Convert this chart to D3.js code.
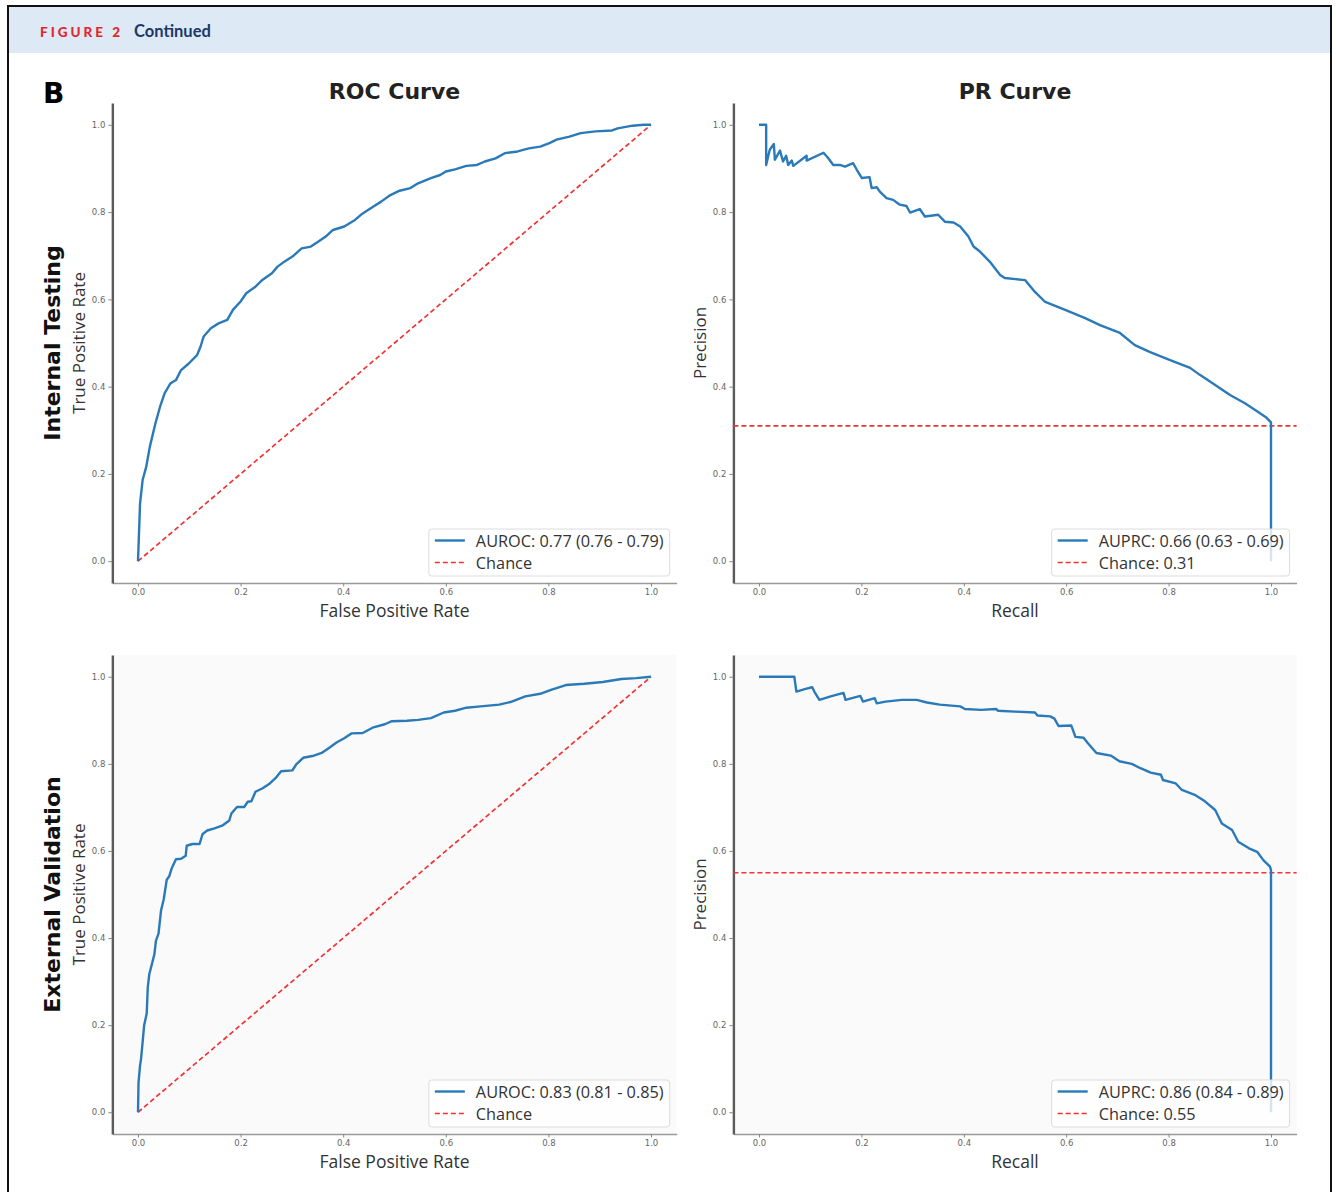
<!DOCTYPE html>
<html>
<head>
<meta charset="utf-8">
<script src="https://cdn.jsdelivr.net/npm/d3@7/dist/d3.min.js"></script>
<style>
  html, body { margin: 0; padding: 0; background: #fff; }
  svg { display: block; }
</style>
</head>
<body>
<svg id="fig" width="1336" height="1192"></svg>
<script>
// ---- data -------------------------------------------------------------
const tickValues = [0, 0.2, 0.4, 0.6, 0.8, 1.0];
const tickLabels = ["0.0", "0.2", "0.4", "0.6", "0.8", "1.0"];
const rowNames = ["Internal Testing", "External Validation"];
const colTitles = ["ROC Curve", "PR Curve"];

// ROC, internal testing
const rocIntFpr = [0, 0.004, 0.009, 0.016, 0.023, 0.034, 0.043, 0.052, 0.063, 0.074, 0.084, 0.099, 0.115, 0.122, 0.128, 0.142, 0.157, 0.174, 0.185, 0.200, 0.211, 0.229, 0.243, 0.261, 0.272, 0.286, 0.301, 0.319, 0.337, 0.351, 0.366, 0.380, 0.402, 0.423, 0.438, 0.459, 0.474, 0.492, 0.510, 0.531, 0.546, 0.571, 0.589, 0.600, 0.618, 0.640, 0.661, 0.676, 0.697, 0.715, 0.740, 0.762, 0.784, 0.802, 0.816, 0.841, 0.863, 0.892, 0.924, 0.935, 0.964, 0.986, 1.0];
const rocIntTpr = [0, 0.132, 0.186, 0.216, 0.262, 0.316, 0.354, 0.385, 0.407, 0.415, 0.438, 0.453, 0.472, 0.492, 0.515, 0.534, 0.545, 0.553, 0.576, 0.595, 0.614, 0.629, 0.645, 0.660, 0.675, 0.687, 0.698, 0.717, 0.721, 0.732, 0.744, 0.759, 0.767, 0.782, 0.797, 0.813, 0.824, 0.839, 0.849, 0.855, 0.866, 0.878, 0.885, 0.893, 0.898, 0.906, 0.908, 0.916, 0.923, 0.935, 0.939, 0.946, 0.950, 0.958, 0.966, 0.973, 0.981, 0.985, 0.987, 0.992, 0.998, 1.0, 1.0];

// ROC, external validation
const rocExtFpr = [0, 0.001, 0.004, 0.006, 0.009, 0.012, 0.017, 0.019, 0.022, 0.027, 0.032, 0.035, 0.040, 0.045, 0.050, 0.056, 0.061, 0.066, 0.074, 0.084, 0.093, 0.095, 0.106, 0.120, 0.126, 0.135, 0.149, 0.164, 0.178, 0.182, 0.193, 0.207, 0.214, 0.221, 0.229, 0.243, 0.257, 0.268, 0.279, 0.301, 0.308, 0.322, 0.340, 0.358, 0.373, 0.387, 0.402, 0.416, 0.438, 0.459, 0.481, 0.495, 0.524, 0.546, 0.571, 0.596, 0.618, 0.640, 0.668, 0.704, 0.726, 0.755, 0.784, 0.805, 0.834, 0.870, 0.906, 0.942, 0.971, 1.0];
const rocExtTpr = [0, 0.068, 0.107, 0.123, 0.161, 0.200, 0.227, 0.286, 0.317, 0.340, 0.363, 0.394, 0.410, 0.464, 0.488, 0.534, 0.542, 0.561, 0.581, 0.582, 0.589, 0.612, 0.616, 0.616, 0.639, 0.647, 0.652, 0.658, 0.670, 0.686, 0.701, 0.701, 0.713, 0.714, 0.736, 0.744, 0.755, 0.767, 0.783, 0.785, 0.798, 0.814, 0.818, 0.825, 0.837, 0.849, 0.859, 0.870, 0.871, 0.884, 0.891, 0.898, 0.899, 0.901, 0.905, 0.918, 0.922, 0.929, 0.932, 0.936, 0.942, 0.955, 0.961, 0.970, 0.981, 0.984, 0.988, 0.995, 0.997, 1.0];

// PR, internal testing
const prIntRecall = [0, 0.014, 0.014, 0.021, 0.029, 0.031, 0.041, 0.047, 0.053, 0.057, 0.064, 0.067, 0.093, 0.093, 0.126, 0.135, 0.145, 0.158, 0.168, 0.184, 0.191, 0.201, 0.216, 0.220, 0.230, 0.236, 0.249, 0.262, 0.275, 0.288, 0.295, 0.314, 0.324, 0.350, 0.363, 0.380, 0.393, 0.409, 0.419, 0.432, 0.451, 0.471, 0.480, 0.520, 0.539, 0.559, 0.598, 0.637, 0.666, 0.705, 0.734, 0.764, 0.803, 0.842, 0.861, 0.891, 0.920, 0.949, 0.975, 0.990, 1.0, 1.0];
const prIntPrecision = [1.0, 1.0, 0.908, 0.943, 0.956, 0.920, 0.941, 0.916, 0.929, 0.908, 0.918, 0.906, 0.929, 0.918, 0.936, 0.924, 0.908, 0.908, 0.904, 0.912, 0.897, 0.878, 0.880, 0.855, 0.857, 0.847, 0.832, 0.828, 0.817, 0.814, 0.799, 0.807, 0.790, 0.794, 0.778, 0.776, 0.767, 0.744, 0.721, 0.709, 0.686, 0.656, 0.649, 0.644, 0.617, 0.594, 0.576, 0.557, 0.541, 0.523, 0.495, 0.479, 0.461, 0.443, 0.427, 0.404, 0.381, 0.362, 0.342, 0.330, 0.318, 0.0];

// PR, external validation
const prExtRecall = [0, 0.069, 0.073, 0.091, 0.104, 0.108, 0.118, 0.140, 0.165, 0.169, 0.198, 0.203, 0.226, 0.230, 0.247, 0.279, 0.308, 0.328, 0.353, 0.393, 0.402, 0.434, 0.463, 0.467, 0.500, 0.539, 0.544, 0.569, 0.577, 0.585, 0.610, 0.618, 0.634, 0.642, 0.659, 0.687, 0.704, 0.728, 0.745, 0.765, 0.785, 0.789, 0.814, 0.826, 0.851, 0.871, 0.891, 0.904, 0.924, 0.936, 0.957, 0.973, 0.985, 0.998, 1.0, 1.0];
const prExtPrecision = [1.0, 1.0, 0.966, 0.972, 0.976, 0.966, 0.947, 0.955, 0.963, 0.947, 0.956, 0.943, 0.951, 0.939, 0.943, 0.947, 0.947, 0.941, 0.936, 0.932, 0.926, 0.924, 0.926, 0.922, 0.920, 0.918, 0.911, 0.909, 0.904, 0.887, 0.888, 0.862, 0.860, 0.848, 0.825, 0.819, 0.806, 0.800, 0.790, 0.780, 0.775, 0.763, 0.755, 0.740, 0.729, 0.714, 0.694, 0.663, 0.648, 0.621, 0.606, 0.598, 0.579, 0.564, 0.556, 0.0];

// headline numbers shown in the legends
const aurocLabels = ["AUROC: 0.77 (0.76 - 0.79)", "AUROC: 0.83 (0.81 - 0.85)"];
const auprcLabels = ["AUPRC: 0.66 (0.63 - 0.69)", "AUPRC: 0.86 (0.84 - 0.89)"];
const prevalence = [0.31, 0.55];

// ---- layout -----------------------------------------------------------
const BLUE = "#2a7ab9";
const RED = "#f23333";
const svg = d3.select("#fig");

// figure frame + header band
svg.append("rect").attr("x", 9).attr("y", 7).attr("width", 1321).attr("height", 46)
  .attr("fill", "#dde9f5");
svg.append("rect").attr("x", 8).attr("y", 6).attr("width", 1323).attr("height", 1200)
  .attr("fill", "none").attr("stroke", "#111").attr("stroke-width", 2);
svg.append("text").attr("x", 40).attr("y", 37)
  .attr("font-family", "Lato, 'Open Sans', sans-serif").attr("font-weight", 900)
  .attr("font-size", 13.5).attr("letter-spacing", 3).attr("fill", "#e3262d")
  .text("FIGURE 2");
svg.append("text").attr("x", 134).attr("y", 37)
  .attr("font-family", "Lato, 'Open Sans', sans-serif").attr("font-weight", 700)
  .attr("font-size", 16.5).attr("fill", "#1b3868")
  .text("Continued");
svg.append("text").attr("x", 43).attr("y", 103)
  .attr("font-family", "'DejaVu Sans', sans-serif").attr("font-weight", 700)
  .attr("font-size", 28).attr("fill", "#000").text("B");

const rowRanges = [[583, 103], [1134, 655]];
const colRanges = [[112.35, 676.65], [733.4, 1296.6]];
const domain = [-0.05, 1.05];
const labelFont = "'Open Sans', 'Noto Sans', sans-serif";

const panels = [
  { row: 0, col: 0, xs: rocIntFpr, ys: rocIntTpr, label: aurocLabels[0] },
  { row: 0, col: 1, xs: prIntRecall, ys: prIntPrecision, label: auprcLabels[0], chance: prevalence[0] },
  { row: 1, col: 0, xs: rocExtFpr, ys: rocExtTpr, label: aurocLabels[1] },
  { row: 1, col: 1, xs: prExtRecall, ys: prExtPrecision, label: auprcLabels[1], chance: prevalence[1] }
];

panels.forEach(p => {
  const x = d3.scaleLinear().domain(domain).range(colRanges[p.col]);
  const y = d3.scaleLinear().domain(domain).range(rowRanges[p.row]);
  const g = svg.append("g");
  const [x0, x1] = x.range();
  const [y0, y1] = y.range();

  if (p.row === 1) {
    g.append("rect").attr("x", x0).attr("y", y1).attr("width", x1 - x0).attr("height", y0 - y1)
      .attr("fill", "#fafafa");
  }

  // axes
  const fmt = d => tickLabels[tickValues.indexOf(d)];
  const ax = g.append("g").attr("transform", `translate(0,${y0})`)
    .call(d3.axisBottom(x).tickValues(tickValues).tickFormat(fmt).tickSizeInner(3.5).tickSizeOuter(0).tickPadding(2));
  ax.select(".domain").attr("stroke", "#9a9a9a").attr("stroke-width", 1.6);
  const ay = g.append("g").attr("transform", `translate(${x0},0)`)
    .call(d3.axisLeft(y).tickValues(tickValues).tickFormat(fmt).tickSizeInner(4).tickSizeOuter(0).tickPadding(3));
  ay.select(".domain").attr("stroke", "#5a5a5a").attr("stroke-width", 2.4);
  [ax, ay].forEach(a => {
    a.selectAll(".tick line").attr("stroke", "#888").attr("stroke-width", 1);
    a.selectAll(".tick text").attr("fill", "#666")
      .attr("font-family", "'DejaVu Sans', sans-serif").attr("font-size", 8.5);
  });

  // reference line
  if (p.chance === undefined) {
    g.append("path").datum([[0, 0], [1, 1]])
      .attr("d", d3.line().x(d => x(d[0])).y(d => y(d[1])))
      .attr("fill", "none").attr("stroke", RED).attr("stroke-width", 1.7)
      .attr("stroke-dasharray", "5,3");
  } else {
    g.append("line").attr("x1", x0).attr("x2", x1)
      .attr("y1", y(p.chance)).attr("y2", y(p.chance))
      .attr("stroke", RED).attr("stroke-width", 1.7).attr("stroke-dasharray", "5,3");
  }

  // curve
  const pts = p.xs.map((v, i) => [v, p.ys[i]]);
  g.append("path").datum(pts)
    .attr("d", d3.line().x(d => x(d[0])).y(d => y(d[1])))
    .attr("fill", "none").attr("stroke", BLUE).attr("stroke-width", 2.4)
    .attr("stroke-linejoin", "round");

  // axis labels
  const isRoc = p.col === 0;
  g.append("text").attr("x", (x0 + x1) / 2).attr("y", y0 + 34)
    .attr("text-anchor", "middle").attr("font-family", labelFont).attr("font-size", 17.5)
    .attr("fill", "#333").text(isRoc ? "False Positive Rate" : "Recall");
  const ylx = isRoc ? 85 : 706;
  g.append("text").attr("transform", `translate(${ylx},${(y0 + y1) / 2}) rotate(-90)`)
    .attr("text-anchor", "middle").attr("font-family", labelFont).attr("font-size", 17)
    .attr("fill", "#333").text(isRoc ? "True Positive Rate" : "Precision");

  // legend (lower right)
  const leg = g.append("g");
  const box = leg.append("rect");
  const t1 = leg.append("text").attr("x", 0).attr("y", 0).attr("font-family", labelFont)
    .attr("font-size", 16.3).attr("fill", "#333").attr("dominant-baseline", "central").text(p.label);
  const t2 = leg.append("text").attr("x", 0).attr("y", 22).attr("font-family", labelFont)
    .attr("font-size", 16.3).attr("fill", "#333").attr("dominant-baseline", "central")
    .text(isRoc ? "Chance" : `Chance: ${p.chance.toFixed(2)}`);
  const tw = Math.max(t1.node().getComputedTextLength(), t2.node().getComputedTextLength());
  const bw = 47 + tw + 6, bh = 47;
  const bx = x1 - 7 - bw, by = y0 - 7 - bh;
  box.attr("x", bx).attr("y", by).attr("width", bw).attr("height", bh).attr("rx", 3)
    .attr("fill", "#fff").attr("fill-opacity", 0.8).attr("stroke", "#dcdcdc").attr("stroke-width", 1);
  t1.attr("x", bx + 47).attr("y", by + 11.5);
  t2.attr("x", bx + 47).attr("y", by + 33.5);
  leg.append("line").attr("x1", bx + 6).attr("x2", bx + 36).attr("y1", by + 11.5).attr("y2", by + 11.5)
    .attr("stroke", BLUE).attr("stroke-width", 2.4);
  leg.append("line").attr("x1", bx + 6).attr("x2", bx + 36).attr("y1", by + 33.5).attr("y2", by + 33.5)
    .attr("stroke", RED).attr("stroke-width", 1.7).attr("stroke-dasharray", "5,3");
});

// column titles and row titles
colTitles.forEach((t, c) => {
  const xr = colRanges[c];
  svg.append("text").attr("x", (xr[0] + xr[1]) / 2).attr("y", 99).attr("text-anchor", "middle")
    .attr("font-family", "'DejaVu Sans', sans-serif").attr("font-weight", 700)
    .attr("font-size", 22).attr("fill", "#222").text(t);
});
rowNames.forEach((t, r) => {
  const yr = rowRanges[r];
  svg.append("text").attr("transform", `translate(60,${(yr[0] + yr[1]) / 2}) rotate(-90)`)
    .attr("text-anchor", "middle").attr("font-family", "'DejaVu Sans', sans-serif")
    .attr("font-weight", 700).attr("font-size", 22).attr("fill", "#111").text(t);
});
</script>
</body>
</html>
